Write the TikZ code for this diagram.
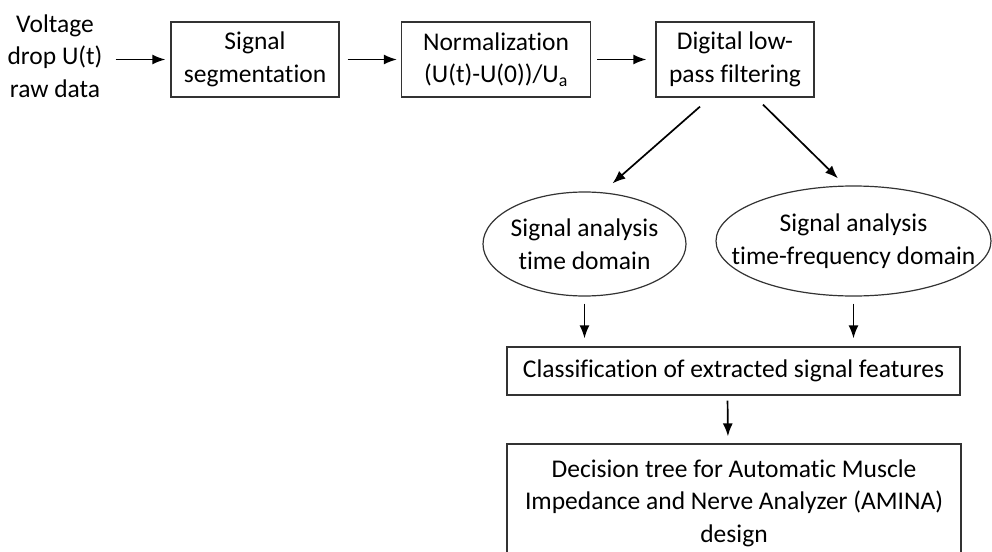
\documentclass[tikz,border=0pt]{standalone}
\usepackage{fontspec}
\setmainfont{Carlito}[Ligatures={NoCommon,NoContextual}, Contextuals=NoAlternate]
\usetikzlibrary{shapes.geometric, arrows.meta, calc}
\tikzset{
  flowblock/.style={rectangle, draw=black!80, line width=1.2pt,
                    align=center, inner sep=0pt},
  flowoval/.style={ellipse, draw=black!80, line width=1.2pt,
                   align=center, inner xsep=-40pt, inner ysep=0pt},
  flowarrow/.style={-{Latex[length=13pt, width=10pt]}, line width=1.7pt},
}

\begin{document}
\begin{tikzpicture}[x=1pt, y=-1pt, font=\fontsize{25.5}{32.5}\selectfont]
  \useasboundingbox (0,0) rectangle (992,551);

  % pre-processing chain
  \node[align=center, inner sep=2pt] (input) at (55,56) {Voltage\\drop U(t)\\raw data};
  \node[flowblock, minimum width=168pt, minimum height=75pt] (segment) at (255,59.5) {Signal\\segmentation};
  \node[flowblock, minimum width=189pt, minimum height=75pt] (normal) at (496,59.5) {Normalization\\(U(t)-U(0))/U\textsubscript{a}};
  \node[flowblock, minimum width=158pt, minimum height=75pt] (filter) at (735,59.5) {Digital low-\\pass filtering};
  \draw[flowarrow, shorten <=11pt, shorten >=5pt] (input.east |- segment.west) -- (segment.west);
  \draw[flowarrow, shorten <=8pt, shorten >=4pt] (segment) -- (normal);
  \draw[flowarrow, shorten <=6pt, shorten >=9pt] (normal) -- (filter);

  % analysis
  \node[flowoval, minimum width=203pt, minimum height=104pt] (tdom) at (584.5,244) {Signal analysis\\time domain};
  \node[flowoval, minimum width=275pt, minimum height=110pt] (tfdom) at (853.5,241) {Signal analysis\\time-frequency domain};
  \draw[flowarrow] ($(filter.south)+(-35,9)$) -- ($(tdom.north)+(28,-8)$);
  \draw[flowarrow] ($(filter.south)+(28,7)$) -- ($(tfdom.north)+(-15.5,-7)$);

  % classification and result
  \node[flowblock, minimum width=453pt, minimum height=48pt] (classify) at (733.5,371) {Classification of extracted signal features};
  \node[flowblock, minimum width=454pt, minimum height=118pt] (decide) at (734,503) {Decision tree for Automatic Muscle\\Impedance and Nerve Analyzer (AMINA)\\design};
  \draw[flowarrow, shorten <=7pt, shorten >=8pt] (tdom.south) -- (tdom.south |- classify.north);
  \draw[flowarrow, shorten <=7pt, shorten >=8pt] (tfdom.south) -- (tfdom.south |- classify.north);
  \draw[flowarrow, shorten <=5pt, shorten >=7pt] ($(classify.south)+(-6,0)$) -- ($(decide.north)+(-6,0)$);
\end{tikzpicture}
\end{document}
